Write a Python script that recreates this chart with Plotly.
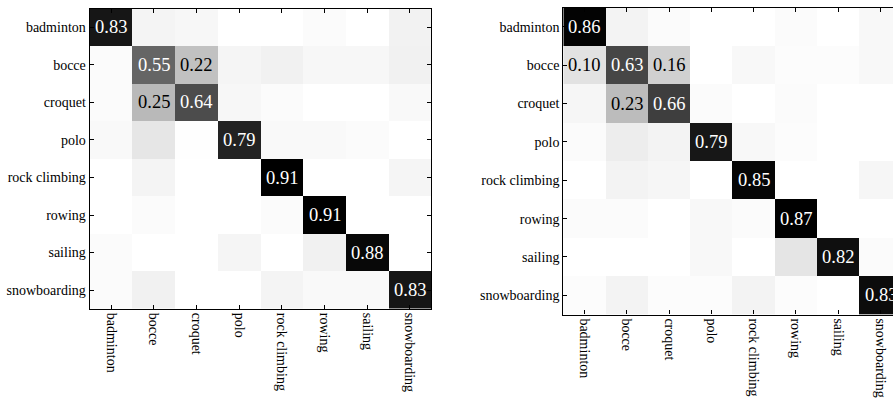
import plotly.graph_objects as go

categories = ["badminton", "bocce", "croquet", "polo", "rock climbing", "rowing", "sailing", "snowboarding"]

# rows = true class, cols = predicted class
left_matrix = [
    [0.83, 0.04, 0.03, 0.00, 0.00, 0.015, 0.00, 0.045],
    [0.015, 0.55, 0.22, 0.035, 0.05, 0.03, 0.03, 0.05],
    [0.015, 0.25, 0.64, 0.03, 0.015, 0.00, 0.00, 0.02],
    [0.02, 0.09, 0.005, 0.79, 0.02, 0.02, 0.015, 0.00],
    [0.00, 0.04, 0.00, 0.00, 0.91, 0.00, 0.00, 0.035],
    [0.00, 0.015, 0.00, 0.00, 0.015, 0.91, 0.00, 0.00],
    [0.015, 0.00, 0.00, 0.035, 0.00, 0.05, 0.88, 0.00],
    [0.015, 0.05, 0.00, 0.00, 0.04, 0.02, 0.02, 0.83],
]

right_matrix = [
    [0.86, 0.04, 0.015, 0.00, 0.00, 0.015, 0.00, 0.025],
    [0.10, 0.63, 0.16, 0.00, 0.025, 0.01, 0.01, 0.025],
    [0.03, 0.23, 0.66, 0.015, 0.00, 0.015, 0.00, 0.00],
    [0.015, 0.06, 0.04, 0.79, 0.025, 0.01, 0.00, 0.00],
    [0.00, 0.04, 0.03, 0.00, 0.85, 0.00, 0.00, 0.03],
    [0.015, 0.015, 0.00, 0.025, 0.015, 0.87, 0.00, 0.00],
    [0.00, 0.00, 0.00, 0.025, 0.00, 0.09, 0.82, 0.015],
    [0.01, 0.04, 0.01, 0.01, 0.04, 0.01, 0.00, 0.83],
]

label_threshold = 0.095
W, H = 893, 398
FONT = "Times New Roman, Liberation Serif, DejaVu Serif, serif"

idx = list(range(len(categories)))
gray_r = [[0, "white"], [1, "black"]]

fig = go.Figure()

panels = [
    (left_matrix, "x", "y"),
    (right_matrix, "x2", "y2"),
]

annotations = []
for mat, xa, ya in panels:
    zmax = max(max(r) for r in mat)
    fig.add_trace(go.Heatmap(
        z=mat, x=idx, y=idx, xaxis=xa, yaxis=ya,
        colorscale=gray_r, zmin=0, zmax=zmax, showscale=False,
        hoverinfo="skip",
    ))
    for i, row in enumerate(mat):
        for j, v in enumerate(row):
            if v >= label_threshold:
                annotations.append(dict(
                    x=j, y=i, xref=xa, yref=ya, text=f"{v:.2f}", showarrow=False,
                    font=dict(family=FONT, size=18.5,
                              color="white" if v / zmax > 0.5 else "black"),
                    xanchor="center", yanchor="middle",
                ))

def px_x(p):
    return p / W

def px_y(p):
    return 1 - p / H

axis_common = dict(
    showline=True, linecolor="black", linewidth=1.2,
    ticks="inside", ticklen=4, tickwidth=1, tickcolor="black",
    showgrid=False, zeroline=False,
    tickfont=dict(family=FONT, size=14, color="black"),
    tickvals=idx, ticktext=categories,
)

# right panel is cut at the page edge
right_left_px = 563.3
right_cell_w = 42.3
right_visible_cells = (W - right_left_px) / right_cell_w

fig.update_layout(
    width=W, height=H,
    margin=dict(l=0, r=0, t=0, b=0),
    paper_bgcolor="white", plot_bgcolor="white",
    showlegend=False,
    font=dict(family=FONT, color="black"),
    xaxis=dict(axis_common, domain=[px_x(89.7), px_x(431.3)], range=[-0.5, 7.5],
               anchor="y", mirror="ticks", tickangle=90),
    yaxis=dict(axis_common, domain=[px_y(312), px_y(8.7)], range=[7.5, -0.5],
               anchor="x", mirror="ticks"),
    xaxis2=dict(axis_common, domain=[px_x(right_left_px), 1.0],
                range=[-0.5, -0.5 + right_visible_cells],
                anchor="y2", mirror="ticks", tickangle=90),
    yaxis2=dict(axis_common, domain=[px_y(317.7), px_y(7.7)], range=[7.5, -0.5],
                anchor="x2", mirror=False),
    annotations=annotations,
)

fig.write_html("out.html")
